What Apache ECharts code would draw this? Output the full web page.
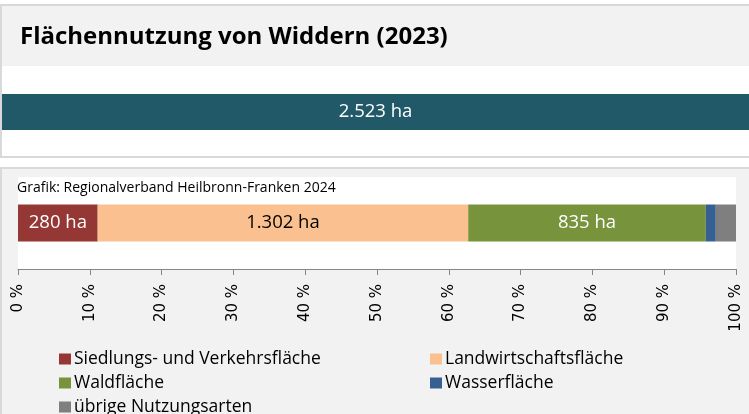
<!DOCTYPE html>
<html>
<head>
<meta charset="utf-8">
<script src="https://cdn.jsdelivr.net/npm/echarts@6/dist/echarts.min.js"></script>
<style>
  html, body { margin: 0; padding: 0; background: #ffffff; }
  #chart { width: 749px; height: 414px; }
</style>
</head>
<body>
<div id="chart"></div>
<script>
// Flächennutzung von Widdern (2023), Angaben in Hektar
const titleText = 'Flächennutzung von Widdern (2023)';
const sourceText = 'Grafik: Regionalverband Heilbronn-Franken 2024';
const totalHa = 2523;
const categories = [
  'Siedlungs- und Verkehrsfläche',
  'Landwirtschaftsfläche',
  'Waldfläche',
  'Wasserfläche',
  'übrige Nutzungsarten'
];
const areaHa = [280, 1302, 835, 35, 71];
const showValueLabel = [true, true, true, false, false];
const labelColors = ['#ffffff', '#000000', '#ffffff', '#ffffff', '#ffffff'];
const colors = ['#953735', '#fac090', '#77933c', '#376092', '#7f7f7f'];
const percentMin = 0;
const percentMax = 100;
const percentStep = 10;

// Legendenraster: zwei Spalten, drei Zeilen (Reihenfolge wie categories)
const legendSlots = [
  { left: 59, top: 350 },
  { left: 430, top: 350 },
  { left: 59, top: 374 },
  { left: 430, top: 374 },
  { left: 59, top: 398 }
];

const bodyFont = '"Open Sans", "Noto Sans", sans-serif';

// Tausendertrennzeichen im deutschen Format
function formatHa(v) {
  return String(Math.round(v)).replace(/\B(?=(\d{3})+(?!\d))/g, '.') + ' ha';
}

const chart = echarts.init(document.getElementById('chart'), null, { renderer: 'canvas' });

const stackSeries = categories.map((name, i) => ({
  name: name,
  type: 'bar',
  stack: 'flaeche',
  xAxisIndex: 1,
  yAxisIndex: 1,
  barWidth: 37,
  itemStyle: { color: colors[i] },
  label: {
    show: showValueLabel[i],
    position: 'inside',
    color: labelColors[i],
    fontFamily: bodyFont,
    fontSize: 18.5,
    formatter: () => formatHa(areaHa[i])
  },
  emphasis: { disabled: true },
  data: [areaHa[i] / totalHa * 100]
}));

const legends = categories.map((name, i) => ({
  orient: 'horizontal',
  left: legendSlots[i].left,
  top: legendSlots[i].top,
  padding: 0,
  data: [name],
  icon: 'rect', itemWidth: 12, itemHeight: 11,
  selectedMode: false,
  textStyle: { fontFamily: bodyFont, fontSize: 17.5, color: '#000000', lineHeight: 18, padding: [0, 0, 0, -2] }
}));

const option = {
  animation: false,
  backgroundColor: '#ffffff',
  graphic: [
    // oberer Kasten mit Titelleiste
    { type: 'rect', z: -10, shape: { x: 1, y: 5, width: 760, height: 152 },
      style: { fill: '#ffffff', stroke: '#d9d9d9', lineWidth: 2 } },
    { type: 'rect', z: -9, shape: { x: 2, y: 6, width: 760, height: 60 },
      style: { fill: '#f2f2f2' } },
    // unterer Kasten
    { type: 'rect', z: -10, shape: { x: 1, y: 168, width: 760, height: 260 },
      style: { fill: '#f2f2f2', stroke: '#d9d9d9', lineWidth: 2 } },
    { type: 'text', z: 10, left: 17, top: 181,
      style: { text: sourceText, fill: '#000000', font: '14px ' + bodyFont } }
  ],
  title: {
    text: titleText,
    left: 20,
    top: 25,
    padding: 0,
    textStyle: { fontFamily: bodyFont, fontSize: 24, fontWeight: 'bold', color: '#000000' }
  },
  legend: legends,
  grid: [
    { left: 2, right: 0, top: 94, height: 36, containLabel: false },
    { left: 18, right: 13, top: 177, height: 92, containLabel: false,
      show: true, backgroundColor: '#ffffff', borderWidth: 0 }
  ],
  xAxis: [
    { gridIndex: 0, type: 'value', min: 0, max: totalHa, show: false },
    {
      gridIndex: 1, type: 'value',
      min: percentMin, max: percentMax, interval: percentStep,
      splitLine: { show: false },
      axisLine: { show: true, lineStyle: { color: '#868686', width: 1 } },
      axisTick: { show: true, length: 6, lineStyle: { color: '#868686' } },
      axisLabel: {
        rotate: 90, margin: 15,
        fontFamily: 'DejaVu Sans', fontSize: 15, color: '#000000',
        formatter: v => v + ' %'
      }
    }
  ],
  yAxis: [
    { gridIndex: 0, type: 'category', data: ['Gesamt'], show: false },
    { gridIndex: 1, type: 'category', data: ['Widdern'], show: false }
  ],
  series: [
    {
      name: 'Gesamtfläche',
      type: 'bar',
      xAxisIndex: 0,
      yAxisIndex: 0,
      barWidth: 36,
      itemStyle: { color: '#215968' },
      label: {
        show: true, position: 'inside', color: '#ffffff',
        fontFamily: bodyFont, fontSize: 18.5,
        formatter: p => formatHa(p.value)
      },
      emphasis: { disabled: true },
      data: [totalHa]
    }
  ].concat(stackSeries)
};

chart.setOption(option);
</script>
</body>
</html>
